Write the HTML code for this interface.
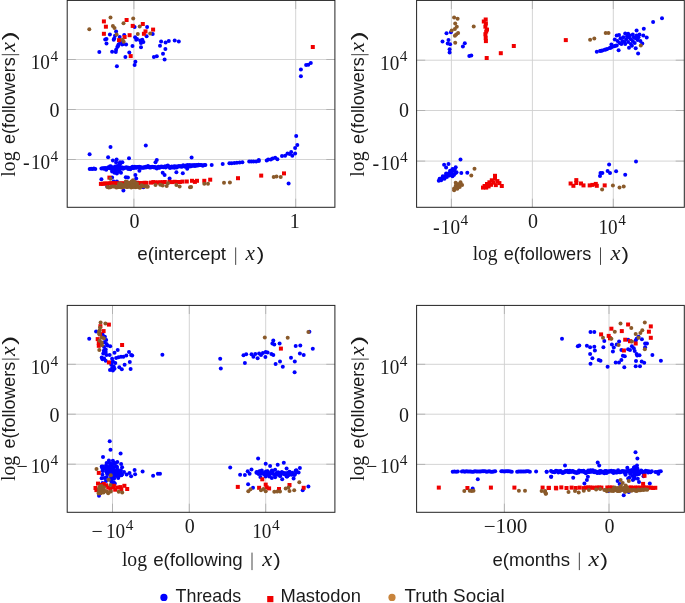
<!DOCTYPE html>
<html><head><meta charset="utf-8"><title>chart</title>
<style>
html,body{margin:0;padding:0;background:#fff;}
body{width:685px;height:603px;position:relative;overflow:hidden;font-family:"Liberation Sans",sans-serif;color:#1a1a1a;}
.t{position:absolute;white-space:nowrap;line-height:1;}
.s{font-family:"Liberation Serif",serif;}
.ss{font-family:"Liberation Sans",sans-serif;}
.i{font-family:"Liberation Serif",serif;font-style:italic;}
sup{font-size:70%;vertical-align:baseline;position:relative;top:-0.45em;line-height:0;}
.yl{transform:rotate(-90deg);transform-origin:0 0;}
</style></head><body>
<svg width="685" height="603" viewBox="0 0 685 603" style="position:absolute;left:0;top:0"><path d="M133.9 0.4V207.3M295.7 0.4V207.3M67.2 59.5H334.9M67.2 109.5H334.9M67.2 159.5H334.9" stroke="#cfcfcf" stroke-width="0.9" fill="none"/><path d="M133.9 0.4v8.6M133.9 207.3v-8.6M295.7 0.4v8.6M295.7 207.3v-8.6M67.2 59.5h8.6M334.9 59.5h-8.6M67.2 109.5h8.6M334.9 109.5h-8.6M67.2 159.5h8.6M334.9 159.5h-8.6" stroke="#aaaaaa" stroke-width="0.8" fill="none"/><g fill="#0000ff"><circle cx="99.3" cy="52.1" r="2"/><circle cx="106.5" cy="38.9" r="2"/><circle cx="105.2" cy="39.4" r="2"/><circle cx="106.5" cy="43.6" r="2"/><circle cx="109.9" cy="34.6" r="2"/><circle cx="112.1" cy="51.8" r="2"/><circle cx="115.8" cy="52.1" r="2"/><circle cx="116.1" cy="49.7" r="2"/><circle cx="114.2" cy="38.6" r="2"/><circle cx="115.0" cy="35.7" r="2"/><circle cx="116.1" cy="31.4" r="2"/><circle cx="117.3" cy="46.9" r="2"/><circle cx="118.5" cy="44.5" r="2"/><circle cx="120.1" cy="42.1" r="2"/><circle cx="119.7" cy="37.0" r="2"/><circle cx="122.1" cy="44.5" r="2"/><circle cx="126.1" cy="44.5" r="2"/><circle cx="124.2" cy="34.9" r="2"/><circle cx="125.4" cy="56.9" r="2"/><circle cx="116.9" cy="66.2" r="2"/><circle cx="129.3" cy="52.6" r="2"/><circle cx="132.5" cy="46.1" r="2"/><circle cx="134.6" cy="26.9" r="2"/><circle cx="135.1" cy="37.3" r="2"/><circle cx="136.2" cy="39.7" r="2"/><circle cx="135.4" cy="61.7" r="2"/><circle cx="134.6" cy="65.1" r="2"/><circle cx="141.0" cy="42.9" r="2"/><circle cx="141.0" cy="47.3" r="2"/><circle cx="142.3" cy="39.7" r="2"/><circle cx="143.4" cy="42.1" r="2"/><circle cx="146.6" cy="36.2" r="2"/><circle cx="147.1" cy="26.9" r="2"/><circle cx="152.7" cy="34.1" r="2"/><circle cx="153.9" cy="57.1" r="2"/><circle cx="156.8" cy="56.3" r="2"/><circle cx="160.0" cy="45.8" r="2"/><circle cx="161.1" cy="41.6" r="2"/><circle cx="163.0" cy="53.7" r="2"/><circle cx="164.6" cy="59.5" r="2"/><circle cx="165.4" cy="48.9" r="2"/><circle cx="165.6" cy="42.6" r="2"/><circle cx="168.8" cy="41.0" r="2"/><circle cx="174.7" cy="40.5" r="2"/><circle cx="178.8" cy="41.5" r="2"/><circle cx="118.1" cy="46.1" r="2"/><circle cx="123.4" cy="44.0" r="2"/><circle cx="113.7" cy="39.7" r="2"/><circle cx="137.0" cy="38.9" r="2"/><circle cx="140.2" cy="40.5" r="2"/><circle cx="300.9" cy="69.6" r="2"/><circle cx="300.9" cy="76.2" r="2"/><circle cx="306.1" cy="65" r="2"/><circle cx="308.3" cy="64.8" r="2"/><circle cx="310.8" cy="63.1" r="2"/><circle cx="89.7" cy="168.9" r="2"/><circle cx="91.1" cy="168.7" r="2"/><circle cx="92.5" cy="169.1" r="2"/><circle cx="93.9" cy="168.6" r="2"/><circle cx="95.3" cy="168.9" r="2"/><circle cx="101.4" cy="168.6" r="2"/><circle cx="102.7" cy="168.2" r="2"/><circle cx="104.0" cy="168.7" r="2"/><circle cx="105.3" cy="168.1" r="2"/><circle cx="106.6" cy="168.6" r="2"/><circle cx="107.9" cy="168.1" r="2"/><circle cx="109.2" cy="168.1" r="2"/><circle cx="110.5" cy="168.4" r="2"/><circle cx="111.8" cy="168.9" r="2"/><circle cx="113.1" cy="168.0" r="2"/><circle cx="114.4" cy="168.0" r="2"/><circle cx="115.7" cy="168.5" r="2"/><circle cx="117.0" cy="168.8" r="2"/><circle cx="118.3" cy="168.3" r="2"/><circle cx="119.6" cy="168.1" r="2"/><circle cx="120.9" cy="168.7" r="2"/><circle cx="122.2" cy="167.6" r="2"/><circle cx="123.5" cy="168.5" r="2"/><circle cx="124.8" cy="167.8" r="2"/><circle cx="126.1" cy="167.6" r="2"/><circle cx="127.4" cy="167.5" r="2"/><circle cx="128.7" cy="167.7" r="2"/><circle cx="130.0" cy="168.2" r="2"/><circle cx="131.3" cy="167.4" r="2"/><circle cx="132.6" cy="167.9" r="2"/><circle cx="133.9" cy="167.9" r="2"/><circle cx="135.2" cy="167.5" r="2"/><circle cx="136.5" cy="167.7" r="2"/><circle cx="137.8" cy="167.1" r="2"/><circle cx="139.1" cy="167.0" r="2"/><circle cx="140.4" cy="167.2" r="2"/><circle cx="141.7" cy="167.7" r="2"/><circle cx="143.0" cy="167.4" r="2"/><circle cx="144.3" cy="167.2" r="2"/><circle cx="145.6" cy="167.5" r="2"/><circle cx="146.9" cy="167.3" r="2"/><circle cx="148.2" cy="167.0" r="2"/><circle cx="149.5" cy="167.6" r="2"/><circle cx="150.8" cy="167.4" r="2"/><circle cx="152.1" cy="166.8" r="2"/><circle cx="153.4" cy="167.2" r="2"/><circle cx="154.7" cy="167.1" r="2"/><circle cx="156.0" cy="167.5" r="2"/><circle cx="157.3" cy="167.3" r="2"/><circle cx="158.6" cy="166.7" r="2"/><circle cx="159.9" cy="167.5" r="2"/><circle cx="161.2" cy="166.4" r="2"/><circle cx="162.5" cy="166.7" r="2"/><circle cx="163.8" cy="167.1" r="2"/><circle cx="165.1" cy="166.3" r="2"/><circle cx="166.4" cy="166.7" r="2"/><circle cx="167.7" cy="166.1" r="2"/><circle cx="169.0" cy="166.8" r="2"/><circle cx="170.3" cy="166.9" r="2"/><circle cx="171.6" cy="166.6" r="2"/><circle cx="172.9" cy="166.9" r="2"/><circle cx="174.2" cy="166.2" r="2"/><circle cx="175.5" cy="166.6" r="2"/><circle cx="176.8" cy="166.5" r="2"/><circle cx="178.1" cy="166.4" r="2"/><circle cx="179.4" cy="166.2" r="2"/><circle cx="180.7" cy="166.6" r="2"/><circle cx="182.0" cy="166.7" r="2"/><circle cx="183.3" cy="166.1" r="2"/><circle cx="184.6" cy="166.3" r="2"/><circle cx="185.9" cy="165.5" r="2"/><circle cx="187.2" cy="166.3" r="2"/><circle cx="188.5" cy="166.1" r="2"/><circle cx="189.8" cy="166.5" r="2"/><circle cx="191.1" cy="166.3" r="2"/><circle cx="192.4" cy="165.6" r="2"/><circle cx="193.7" cy="165.7" r="2"/><circle cx="195.0" cy="166.0" r="2"/><circle cx="196.3" cy="165.1" r="2"/><circle cx="197.6" cy="165.6" r="2"/><circle cx="198.9" cy="165.2" r="2"/><circle cx="200.2" cy="165.1" r="2"/><circle cx="201.5" cy="165.0" r="2"/><circle cx="202.8" cy="165.8" r="2"/><circle cx="204.1" cy="165.0" r="2"/><circle cx="205.4" cy="165.1" r="2"/><circle cx="104" cy="168.3" r="2"/><circle cx="106.2" cy="169.7" r="2"/><circle cx="108.4" cy="167.2" r="2"/><circle cx="110.6" cy="168.3" r="2"/><circle cx="112.8" cy="168.5" r="2"/><circle cx="115.0" cy="169.5" r="2"/><circle cx="117.2" cy="169.2" r="2"/><circle cx="119.4" cy="169.3" r="2"/><circle cx="121.6" cy="167.5" r="2"/><circle cx="123.8" cy="167.8" r="2"/><circle cx="126.0" cy="167.6" r="2"/><circle cx="128.2" cy="169.1" r="2"/><circle cx="130.4" cy="169.3" r="2"/><circle cx="132.6" cy="166.8" r="2"/><circle cx="134.8" cy="166.8" r="2"/><circle cx="137.0" cy="166.9" r="2"/><circle cx="139.2" cy="166.8" r="2"/><circle cx="141.4" cy="167.5" r="2"/><circle cx="143.6" cy="167.8" r="2"/><circle cx="145.8" cy="166.8" r="2"/><circle cx="148.0" cy="165.9" r="2"/><circle cx="150.2" cy="167.1" r="2"/><circle cx="152.4" cy="166.9" r="2"/><circle cx="154.6" cy="167.4" r="2"/><circle cx="156.8" cy="168.5" r="2"/><circle cx="159.0" cy="167.7" r="2"/><circle cx="161.2" cy="167.1" r="2"/><circle cx="163.4" cy="167.3" r="2"/><circle cx="165.6" cy="167.5" r="2"/><circle cx="167.8" cy="165.5" r="2"/><circle cx="170.0" cy="168.0" r="2"/><circle cx="172.2" cy="167.6" r="2"/><circle cx="174.4" cy="167.8" r="2"/><circle cx="176.6" cy="167.5" r="2"/><circle cx="178.8" cy="166.3" r="2"/><circle cx="181.0" cy="166.2" r="2"/><circle cx="183.2" cy="165.3" r="2"/><circle cx="185.4" cy="166.8" r="2"/><circle cx="187.6" cy="165.0" r="2"/><circle cx="189.8" cy="165.0" r="2"/><circle cx="192.0" cy="165.3" r="2"/><circle cx="194.2" cy="165.1" r="2"/><circle cx="196.4" cy="165.6" r="2"/><circle cx="198.6" cy="164.7" r="2"/><circle cx="118.3" cy="167.5" r="2"/><circle cx="118.9" cy="169.0" r="2"/><circle cx="122.9" cy="168.3" r="2"/><circle cx="115.1" cy="166.5" r="2"/><circle cx="116.5" cy="169.9" r="2"/><circle cx="115.4" cy="168.5" r="2"/><circle cx="122.4" cy="162.3" r="2"/><circle cx="112.9" cy="168.1" r="2"/><circle cx="117.8" cy="168.1" r="2"/><circle cx="115.1" cy="169.2" r="2"/><circle cx="117.4" cy="166.1" r="2"/><circle cx="122.9" cy="168.4" r="2"/><circle cx="114.7" cy="167.2" r="2"/><circle cx="115.8" cy="167.3" r="2"/><circle cx="110.1" cy="166.2" r="2"/><circle cx="119.7" cy="164.5" r="2"/><circle cx="116.3" cy="170.0" r="2"/><circle cx="119.2" cy="171.4" r="2"/><circle cx="111.1" cy="166.6" r="2"/><circle cx="115.4" cy="169.1" r="2"/><circle cx="120.0" cy="162.3" r="2"/><circle cx="120.0" cy="163.7" r="2"/><circle cx="89.6" cy="154.3" r="2"/><circle cx="110.5" cy="147.0" r="2"/><circle cx="108.1" cy="157.2" r="2"/><circle cx="112.9" cy="160.4" r="2"/><circle cx="116.6" cy="159.4" r="2"/><circle cx="116.1" cy="162.6" r="2"/><circle cx="129.0" cy="158.3" r="2"/><circle cx="145.8" cy="145.6" r="2"/><circle cx="156.8" cy="159.9" r="2"/><circle cx="155.5" cy="162.3" r="2"/><circle cx="114.5" cy="172.7" r="2"/><circle cx="116.9" cy="173.5" r="2"/><circle cx="121.0" cy="172.7" r="2"/><circle cx="112.1" cy="171.6" r="2"/><circle cx="139.4" cy="170.7" r="2"/><circle cx="162.7" cy="172.7" r="2"/><circle cx="164.6" cy="175.1" r="2"/><circle cx="169.6" cy="178.4" r="2"/><circle cx="176.4" cy="172.3" r="2"/><circle cx="182.8" cy="173.2" r="2"/><circle cx="135.4" cy="175.1" r="2"/><circle cx="136.2" cy="178.4" r="2"/><circle cx="125.8" cy="177.2" r="2"/><circle cx="127.9" cy="177.6" r="2"/><circle cx="101.4" cy="179.2" r="2"/><circle cx="112.1" cy="177.6" r="2"/><circle cx="123.4" cy="190.4" r="2"/><circle cx="107.3" cy="186.4" r="2"/><circle cx="113.7" cy="181.6" r="2"/><circle cx="116.9" cy="181.6" r="2"/><circle cx="143.4" cy="187.2" r="2"/><circle cx="191.6" cy="157.4" r="2"/><circle cx="187.2" cy="168.8" r="2"/><circle cx="211.7" cy="164.9" r="2"/><circle cx="222.7" cy="164.0" r="2"/><circle cx="229.4" cy="163.3" r="2"/><circle cx="231.6" cy="163.3" r="2"/><circle cx="234.3" cy="163.1" r="2"/><circle cx="236.9" cy="162.7" r="2"/><circle cx="239.7" cy="162.4" r="2"/><circle cx="242.4" cy="162.2" r="2"/><circle cx="249.2" cy="161.6" r="2"/><circle cx="251.3" cy="161.6" r="2"/><circle cx="253.5" cy="161.6" r="2"/><circle cx="256.2" cy="161.6" r="2"/><circle cx="258.8" cy="161.1" r="2"/><circle cx="258.8" cy="160.0" r="2"/><circle cx="266.7" cy="160.5" r="2"/><circle cx="268.2" cy="159.6" r="2"/><circle cx="270.8" cy="159.4" r="2"/><circle cx="272.6" cy="158.5" r="2"/><circle cx="275.2" cy="157.8" r="2"/><circle cx="277.4" cy="159.2" r="2"/><circle cx="282.0" cy="156.1" r="2"/><circle cx="285.1" cy="155.7" r="2"/><circle cx="287.5" cy="153.5" r="2"/><circle cx="289.7" cy="153.9" r="2"/><circle cx="291.2" cy="151.9" r="2"/><circle cx="292.3" cy="155.7" r="2"/><circle cx="295.1" cy="153.5" r="2"/><circle cx="295.1" cy="148.0" r="2"/><circle cx="297.3" cy="145.1" r="2"/><circle cx="296.2" cy="135.9" r="2"/><circle cx="288.6" cy="183.5" r="2"/></g><g fill="#f00000"><rect x="101.9" y="19.4" width="4" height="4"/><rect x="103.9" y="24.7" width="4" height="4"/><rect x="101.9" y="31.8" width="4" height="4"/><rect x="124.6" y="18.0" width="4" height="4"/><rect x="130.7" y="23.9" width="4" height="4"/><rect x="140.8" y="22.0" width="4" height="4"/><rect x="151.1" y="27.6" width="4" height="4"/><rect x="143.5" y="29.4" width="4" height="4"/><rect x="141.9" y="31.8" width="4" height="4"/><rect x="127.6" y="33.2" width="4" height="4"/><rect x="122.6" y="35.0" width="4" height="4"/><rect x="117.0" y="38.2" width="4" height="4"/><rect x="128.7" y="54.1" width="4" height="4"/><rect x="310.8" y="45.0" width="4" height="4"/><rect x="98.9" y="181.9" width="4" height="4"/><rect x="100.8" y="181.8" width="4" height="4"/><rect x="102.7" y="181.5" width="4" height="4"/><rect x="104.6" y="181.6" width="4" height="4"/><rect x="106.5" y="181.5" width="4" height="4"/><rect x="108.4" y="181.2" width="4" height="4"/><rect x="110.3" y="181.2" width="4" height="4"/><rect x="112.2" y="181.3" width="4" height="4"/><rect x="114.1" y="181.3" width="4" height="4"/><rect x="116.0" y="181.5" width="4" height="4"/><rect x="117.9" y="181.6" width="4" height="4"/><rect x="119.8" y="181.3" width="4" height="4"/><rect x="121.7" y="181.5" width="4" height="4"/><rect x="123.6" y="181.5" width="4" height="4"/><rect x="125.5" y="181.5" width="4" height="4"/><rect x="127.4" y="181.1" width="4" height="4"/><rect x="129.3" y="180.9" width="4" height="4"/><rect x="131.2" y="180.9" width="4" height="4"/><rect x="133.1" y="180.9" width="4" height="4"/><rect x="135.0" y="180.8" width="4" height="4"/><rect x="136.9" y="181.0" width="4" height="4"/><rect x="138.8" y="181.2" width="4" height="4"/><rect x="140.7" y="181.1" width="4" height="4"/><rect x="142.6" y="180.8" width="4" height="4"/><rect x="144.5" y="180.9" width="4" height="4"/><rect x="149.0" y="180.6" width="4" height="4"/><rect x="151.3" y="180.1" width="4" height="4"/><rect x="153.6" y="180.4" width="4" height="4"/><rect x="155.9" y="180.5" width="4" height="4"/><rect x="158.2" y="180.3" width="4" height="4"/><rect x="160.5" y="180.2" width="4" height="4"/><rect x="162.8" y="180.0" width="4" height="4"/><rect x="167.5" y="179.8" width="4" height="4"/><rect x="170.1" y="180.1" width="4" height="4"/><rect x="172.7" y="179.8" width="4" height="4"/><rect x="175.3" y="180.0" width="4" height="4"/><rect x="177.9" y="180.0" width="4" height="4"/><rect x="180.5" y="179.6" width="4" height="4"/><rect x="107.4" y="175.6" width="4" height="4"/><rect x="184.8" y="179.5" width="4" height="4"/><rect x="190.0" y="178.8" width="4" height="4"/><rect x="192.9" y="179.9" width="4" height="4"/><rect x="195.0" y="178.8" width="4" height="4"/><rect x="202.3" y="178.8" width="4" height="4"/><rect x="208.2" y="177.7" width="4" height="4"/><rect x="236.0" y="176.2" width="4" height="4"/><rect x="259.2" y="173.6" width="4" height="4"/><rect x="282.0" y="171.4" width="4" height="4"/></g><g fill="#8a5a2a"><circle cx="89.3" cy="29.3" r="2"/><circle cx="110.5" cy="17.5" r="2"/><circle cx="133.2" cy="18.5" r="2"/><circle cx="123.5" cy="23.3" r="2"/><circle cx="112.9" cy="26.1" r="2"/><circle cx="114.5" cy="28.1" r="2"/><circle cx="139.7" cy="26.5" r="2"/><circle cx="116.6" cy="34.6" r="2"/><circle cx="137.8" cy="34.1" r="2"/><circle cx="150.2" cy="33.4" r="2"/><circle cx="122.6" cy="39.7" r="2"/><circle cx="123.7" cy="41.8" r="2"/><circle cx="107.3" cy="186.9" r="2"/><circle cx="108.8" cy="187.6" r="2"/><circle cx="110.3" cy="187.3" r="2"/><circle cx="111.8" cy="186.5" r="2"/><circle cx="113.3" cy="186.4" r="2"/><circle cx="114.8" cy="186.4" r="2"/><circle cx="116.3" cy="187.5" r="2"/><circle cx="117.8" cy="187.3" r="2"/><circle cx="119.3" cy="186.4" r="2"/><circle cx="120.8" cy="187.3" r="2"/><circle cx="122.3" cy="187.5" r="2"/><circle cx="123.8" cy="187.1" r="2"/><circle cx="125.3" cy="186.6" r="2"/><circle cx="126.8" cy="186.9" r="2"/><circle cx="128.3" cy="186.3" r="2"/><circle cx="129.8" cy="186.1" r="2"/><circle cx="131.3" cy="187.4" r="2"/><circle cx="132.8" cy="187.0" r="2"/><circle cx="134.3" cy="186.8" r="2"/><circle cx="135.8" cy="187.3" r="2"/><circle cx="137.3" cy="186.6" r="2"/><circle cx="138.8" cy="187.2" r="2"/><circle cx="140.3" cy="187.1" r="2"/><circle cx="141.8" cy="186.3" r="2"/><circle cx="143.3" cy="186.3" r="2"/><circle cx="144.8" cy="186.4" r="2"/><circle cx="146.3" cy="186.3" r="2"/><circle cx="147.8" cy="186.7" r="2"/><circle cx="130.6" cy="186.9" r="2"/><circle cx="139.9" cy="187.8" r="2"/><circle cx="127.0" cy="186.6" r="2"/><circle cx="119.7" cy="183.5" r="2"/><circle cx="119.2" cy="186.9" r="2"/><circle cx="123.6" cy="185.2" r="2"/><circle cx="129.8" cy="185.2" r="2"/><circle cx="127.5" cy="185.6" r="2"/><circle cx="141.7" cy="185.3" r="2"/><circle cx="134.2" cy="186.8" r="2"/><circle cx="129.8" cy="183.2" r="2"/><circle cx="127.7" cy="186.9" r="2"/><circle cx="121.1" cy="184.2" r="2"/><circle cx="137.0" cy="186.5" r="2"/><circle cx="131.0" cy="186.5" r="2"/><circle cx="132.0" cy="183.3" r="2"/><circle cx="121.6" cy="184.2" r="2"/><circle cx="136.5" cy="184.3" r="2"/><circle cx="125.6" cy="184.0" r="2"/><circle cx="121.8" cy="185.0" r="2"/><circle cx="123.9" cy="185.8" r="2"/><circle cx="119.0" cy="185.7" r="2"/><circle cx="127.2" cy="182.1" r="2"/><circle cx="135.3" cy="184.8" r="2"/><circle cx="119.0" cy="183.8" r="2"/><circle cx="132.7" cy="184.5" r="2"/><circle cx="133" cy="180.2" r="2"/><circle cx="131.5" cy="181.5" r="2"/><circle cx="134.5" cy="181.8" r="2"/><circle cx="110.5" cy="178.7" r="2"/><circle cx="125.8" cy="181.6" r="2"/><circle cx="128" cy="183" r="2"/><circle cx="137" cy="183.5" r="2"/><circle cx="155.5" cy="185.1" r="2"/><circle cx="162.7" cy="185.6" r="2"/><circle cx="166.7" cy="186.1" r="2"/><circle cx="168.0" cy="183.2" r="2"/><circle cx="176.4" cy="185.1" r="2"/><circle cx="179.6" cy="186.4" r="2"/><circle cx="190.0" cy="187.2" r="2"/><circle cx="160.3" cy="184.8" r="2"/><circle cx="146.6" cy="186.4" r="2"/><circle cx="191.1" cy="187.0" r="2"/><circle cx="204.3" cy="183.7" r="2"/><circle cx="208.0" cy="183.7" r="2"/><circle cx="224.0" cy="182.8" r="2"/><circle cx="229.9" cy="182.4" r="2"/><circle cx="273.7" cy="176.9" r="2"/><circle cx="276.5" cy="176.5" r="2"/><circle cx="280.7" cy="176.9" r="2"/></g><rect x="67.2" y="0.4" width="267.7" height="206.9" fill="none" stroke="#222" stroke-width="1"/><path d="M451.4 0.4V207.3M532.4 0.4V207.3M613.3 0.4V207.3M416.6 60.2H684.3M416.6 110.5H684.3M416.6 161.1H684.3" stroke="#cfcfcf" stroke-width="0.9" fill="none"/><path d="M451.4 0.4v8.6M451.4 207.3v-8.6M532.4 0.4v8.6M532.4 207.3v-8.6M613.3 0.4v8.6M613.3 207.3v-8.6M416.6 60.2h8.6M684.3 60.2h-8.6M416.6 110.5h8.6M684.3 110.5h-8.6M416.6 161.1h8.6M684.3 161.1h-8.6" stroke="#aaaaaa" stroke-width="0.8" fill="none"/><g fill="#0000ff"><circle cx="446.5" cy="33.3" r="2"/><circle cx="450.9" cy="32.3" r="2"/><circle cx="442.5" cy="41.5" r="2"/><circle cx="448.5" cy="40.0" r="2"/><circle cx="447.7" cy="43.5" r="2"/><circle cx="450.1" cy="44.3" r="2"/><circle cx="449.6" cy="49.2" r="2"/><circle cx="449.6" cy="52.4" r="2"/><circle cx="464.8" cy="43.2" r="2"/><circle cx="462.9" cy="46.4" r="2"/><circle cx="469.3" cy="55.9" r="2"/><circle cx="471.3" cy="55.4" r="2"/><circle cx="596.8" cy="51.7" r="2"/><circle cx="600.0" cy="51.1" r="2"/><circle cx="602.4" cy="50.5" r="2"/><circle cx="604.7" cy="49.8" r="2"/><circle cx="607.2" cy="49.0" r="2"/><circle cx="609.7" cy="48.1" r="2"/><circle cx="611.9" cy="47.1" r="2"/><circle cx="614.2" cy="46.2" r="2"/><circle cx="616.7" cy="45.4" r="2"/><circle cx="601.1" cy="50.7" r="2"/><circle cx="605.9" cy="49.4" r="2"/><circle cx="610.8" cy="47.7" r="2"/><circle cx="615.4" cy="45.8" r="2"/><circle cx="611.4" cy="44.5" r="2"/><circle cx="618.6" cy="50.2" r="2"/><circle cx="629.0" cy="47.7" r="2"/><circle cx="635.7" cy="48.3" r="2"/><circle cx="638.1" cy="53.6" r="2"/><circle cx="642.3" cy="43.5" r="2"/><circle cx="646.7" cy="37.6" r="2"/><circle cx="643.8" cy="28.7" r="2"/><circle cx="636.6" cy="30.6" r="2"/><circle cx="653.1" cy="21.9" r="2"/><circle cx="662.0" cy="18.3" r="2"/><circle cx="616.7" cy="35.4" r="2"/><circle cx="619.0" cy="35.0" r="2"/><circle cx="614.8" cy="39.5" r="2"/><circle cx="625.2" cy="33.5" r="2"/><circle cx="628.1" cy="33.8" r="2"/><circle cx="632.8" cy="34.4" r="2"/><circle cx="639.5" cy="34.4" r="2"/><circle cx="643.3" cy="35.4" r="2"/><circle cx="640.4" cy="41.1" r="2"/><circle cx="634.7" cy="43.0" r="2"/><circle cx="619.5" cy="43.0" r="2"/><circle cx="622.4" cy="41.1" r="2"/><circle cx="625.2" cy="43.9" r="2"/><circle cx="628.1" cy="42.0" r="2"/><circle cx="630.9" cy="39.2" r="2"/><circle cx="633.8" cy="37.3" r="2"/><circle cx="636.6" cy="35.4" r="2"/><circle cx="620.5" cy="38.2" r="2"/><circle cx="623.3" cy="37.3" r="2"/><circle cx="626.2" cy="39.2" r="2"/><circle cx="629.0" cy="37.3" r="2"/><circle cx="630.9" cy="43.9" r="2"/><circle cx="632.8" cy="41.1" r="2"/><circle cx="637.6" cy="40.1" r="2"/><circle cx="617.6" cy="41.1" r="2"/><circle cx="621.4" cy="43.9" r="2"/><circle cx="627.1" cy="36.3" r="2"/><circle cx="630.0" cy="35.4" r="2"/><circle cx="635.7" cy="38.2" r="2"/><circle cx="638.5" cy="37.3" r="2"/><circle cx="624.3" cy="42.0" r="2"/><circle cx="631.9" cy="45.8" r="2"/><circle cx="460.5" cy="159.5" r="2"/><circle cx="444.1" cy="164.8" r="2"/><circle cx="448.5" cy="163.9" r="2"/><circle cx="446.1" cy="167.5" r="2"/><circle cx="455.7" cy="167.2" r="2"/><circle cx="452.5" cy="169.1" r="2"/><circle cx="454.1" cy="170.7" r="2"/><circle cx="456.5" cy="172.3" r="2"/><circle cx="461.3" cy="173.1" r="2"/><circle cx="467.3" cy="172.8" r="2"/><circle cx="438.8" cy="180.7" r="2"/><circle cx="440.4" cy="179.5" r="2"/><circle cx="442.0" cy="178.4" r="2"/><circle cx="443.7" cy="177.1" r="2"/><circle cx="445.3" cy="176.0" r="2"/><circle cx="446.9" cy="174.7" r="2"/><circle cx="448.5" cy="173.6" r="2"/><circle cx="450.1" cy="172.6" r="2"/><circle cx="451.7" cy="171.5" r="2"/><circle cx="453.3" cy="170.4" r="2"/><circle cx="441.2" cy="180.3" r="2"/><circle cx="444.5" cy="178.7" r="2"/><circle cx="446.9" cy="177.1" r="2"/><circle cx="449.3" cy="175.5" r="2"/><circle cx="451.7" cy="173.9" r="2"/><circle cx="454.1" cy="174.7" r="2"/><circle cx="452.5" cy="176.3" r="2"/><circle cx="439.6" cy="178.7" r="2"/><circle cx="442.8" cy="176.3" r="2"/><circle cx="446.1" cy="173.6" r="2"/><circle cx="450.1" cy="170.7" r="2"/><circle cx="454.9" cy="169.1" r="2"/><circle cx="455.7" cy="173.1" r="2"/><circle cx="636.0" cy="161.5" r="2"/><circle cx="609.1" cy="164.5" r="2"/><circle cx="607.6" cy="171.0" r="2"/><circle cx="610.0" cy="172.9" r="2"/><circle cx="616.1" cy="171.2" r="2"/><circle cx="625.2" cy="174.8" r="2"/><circle cx="600.5" cy="172.9" r="2"/><circle cx="602.4" cy="172.9" r="2"/><circle cx="600.0" cy="176.1" r="2"/></g><g fill="#f00000"><rect x="483.7" y="17.5" width="4" height="4"/><rect x="481.8" y="19.5" width="4" height="4"/><rect x="483.9" y="21.5" width="4" height="4"/><rect x="483.4" y="24.7" width="4" height="4"/><rect x="485.0" y="27.6" width="4" height="4"/><rect x="484.2" y="29.5" width="4" height="4"/><rect x="483.4" y="32.2" width="4" height="4"/><rect x="483.7" y="35.9" width="4" height="4"/><rect x="483.9" y="39.1" width="4" height="4"/><rect x="484.7" y="56.0" width="4" height="4"/><rect x="498.8" y="51.2" width="4" height="4"/><rect x="511.8" y="44.0" width="4" height="4"/><rect x="563.8" y="38.1" width="4" height="4"/><rect x="493.0" y="173.8" width="4" height="4"/><rect x="493.0" y="176.7" width="4" height="4"/><rect x="489.8" y="178.3" width="4" height="4"/><rect x="495.4" y="179.1" width="4" height="4"/><rect x="487.4" y="180.3" width="4" height="4"/><rect x="491.4" y="180.7" width="4" height="4"/><rect x="497.4" y="181.1" width="4" height="4"/><rect x="485.0" y="182.0" width="4" height="4"/><rect x="489.0" y="182.8" width="4" height="4"/><rect x="493.8" y="183.1" width="4" height="4"/><rect x="482.6" y="184.0" width="4" height="4"/><rect x="486.6" y="184.4" width="4" height="4"/><rect x="499.8" y="184.0" width="4" height="4"/><rect x="481.0" y="185.6" width="4" height="4"/><rect x="484.2" y="185.6" width="4" height="4"/><rect x="568.6" y="181.5" width="4" height="4"/><rect x="571.4" y="183.8" width="4" height="4"/><rect x="574.3" y="178.1" width="4" height="4"/><rect x="574.3" y="181.0" width="4" height="4"/><rect x="579.0" y="181.5" width="4" height="4"/><rect x="581.5" y="183.4" width="4" height="4"/><rect x="587.7" y="183.4" width="4" height="4"/><rect x="590.4" y="182.9" width="4" height="4"/><rect x="593.8" y="181.9" width="4" height="4"/><rect x="594.8" y="183.8" width="4" height="4"/><rect x="602.7" y="183.4" width="4" height="4"/></g><g fill="#8a5a2a"><circle cx="454.1" cy="17.4" r="2"/><circle cx="457.6" cy="18.7" r="2"/><circle cx="455.2" cy="23.5" r="2"/><circle cx="456.8" cy="26.7" r="2"/><circle cx="454.9" cy="29.1" r="2"/><circle cx="451.7" cy="30.4" r="2"/><circle cx="458.1" cy="33.1" r="2"/><circle cx="456.2" cy="34.4" r="2"/><circle cx="454.9" cy="35.8" r="2"/><circle cx="455.2" cy="42.7" r="2"/><circle cx="473.7" cy="26.4" r="2"/><circle cx="590.1" cy="39.7" r="2"/><circle cx="594.3" cy="38.4" r="2"/><circle cx="605.7" cy="33.1" r="2"/><circle cx="608.5" cy="33.1" r="2"/><circle cx="640.8" cy="45.4" r="2"/><circle cx="474.5" cy="168.8" r="2"/><circle cx="471.3" cy="175.5" r="2"/><circle cx="455.7" cy="182.7" r="2"/><circle cx="460.5" cy="182.3" r="2"/><circle cx="458.1" cy="184.3" r="2"/><circle cx="462.1" cy="185.1" r="2"/><circle cx="455.7" cy="186.0" r="2"/><circle cx="459.7" cy="187.1" r="2"/><circle cx="454.1" cy="188.4" r="2"/><circle cx="457.3" cy="188.7" r="2"/><circle cx="454.1" cy="190.3" r="2"/><circle cx="456.5" cy="184.3" r="2"/><circle cx="460.5" cy="184.3" r="2"/><circle cx="458.6" cy="186.4" r="2"/><circle cx="602.1" cy="189.4" r="2"/><circle cx="612.9" cy="185.6" r="2"/><circle cx="619.5" cy="187.5" r="2"/><circle cx="623.7" cy="186.6" r="2"/></g><rect x="416.6" y="0.4" width="267.7" height="206.9" fill="none" stroke="#222" stroke-width="1"/><path d="M112.5 305.4V512.3M189.3 305.4V512.3M265.7 305.4V512.3M67.2 364.3H334.9M67.2 414.2H334.9M67.2 464.2H334.9" stroke="#cfcfcf" stroke-width="0.9" fill="none"/><path d="M112.5 305.4v8.6M112.5 512.3v-8.6M189.3 305.4v8.6M189.3 512.3v-8.6M265.7 305.4v8.6M265.7 512.3v-8.6M67.2 364.3h8.6M334.9 364.3h-8.6M67.2 414.2h8.6M334.9 414.2h-8.6M67.2 464.2h8.6M334.9 464.2h-8.6" stroke="#aaaaaa" stroke-width="0.8" fill="none"/><g fill="#0000ff"><circle cx="89.2" cy="338.8" r="2"/><circle cx="96.1" cy="331.5" r="2"/><circle cx="162.4" cy="354.8" r="2"/><circle cx="104.9" cy="336.7" r="2"/><circle cx="106.2" cy="339.9" r="2"/><circle cx="106.5" cy="343.9" r="2"/><circle cx="107.6" cy="345.5" r="2"/><circle cx="110.2" cy="346.3" r="2"/><circle cx="104.1" cy="347.1" r="2"/><circle cx="105.7" cy="349.5" r="2"/><circle cx="103.8" cy="350.7" r="2"/><circle cx="105.7" cy="351.9" r="2"/><circle cx="103.3" cy="353.5" r="2"/><circle cx="106.5" cy="355.1" r="2"/><circle cx="109.7" cy="355.1" r="2"/><circle cx="101.7" cy="357.6" r="2"/><circle cx="104.1" cy="358.4" r="2"/><circle cx="102.5" cy="359.2" r="2"/><circle cx="105.7" cy="360.8" r="2"/><circle cx="114.5" cy="352.7" r="2"/><circle cx="117.7" cy="350.0" r="2"/><circle cx="112.1" cy="358.7" r="2"/><circle cx="116.1" cy="358.0" r="2"/><circle cx="118.5" cy="357.2" r="2"/><circle cx="121.0" cy="356.8" r="2"/><circle cx="123.4" cy="356.8" r="2"/><circle cx="126.3" cy="355.6" r="2"/><circle cx="129.0" cy="351.9" r="2"/><circle cx="131.1" cy="355.1" r="2"/><circle cx="132.2" cy="355.6" r="2"/><circle cx="129.8" cy="362.1" r="2"/><circle cx="124.6" cy="364.8" r="2"/><circle cx="119.3" cy="367.2" r="2"/><circle cx="121.8" cy="369.3" r="2"/><circle cx="130.6" cy="369.1" r="2"/><circle cx="112.9" cy="361.6" r="2"/><circle cx="115.3" cy="362.9" r="2"/><circle cx="111.3" cy="364.8" r="2"/><circle cx="113.7" cy="366.4" r="2"/><circle cx="112.1" cy="368.0" r="2"/><circle cx="114.5" cy="368.8" r="2"/><circle cx="110.0" cy="370.1" r="2"/><circle cx="112.9" cy="370.4" r="2"/><circle cx="111.3" cy="363.2" r="2"/><circle cx="104.1" cy="342.3" r="2"/><circle cx="102.5" cy="334.3" r="2"/><circle cx="220.2" cy="358.7" r="2"/><circle cx="220.8" cy="368.5" r="2"/><circle cx="243.5" cy="355.2" r="2"/><circle cx="246.2" cy="354.3" r="2"/><circle cx="244.9" cy="363.0" r="2"/><circle cx="251.5" cy="354.3" r="2"/><circle cx="253.4" cy="356.8" r="2"/><circle cx="255.3" cy="353.9" r="2"/><circle cx="257.6" cy="358.3" r="2"/><circle cx="259.1" cy="353.5" r="2"/><circle cx="261.0" cy="354.9" r="2"/><circle cx="262.9" cy="353.0" r="2"/><circle cx="265.4" cy="357.1" r="2"/><circle cx="265.7" cy="352.0" r="2"/><circle cx="267.6" cy="352.4" r="2"/><circle cx="271.4" cy="353.9" r="2"/><circle cx="273.3" cy="354.9" r="2"/><circle cx="272.4" cy="343.5" r="2"/><circle cx="273.3" cy="340.6" r="2"/><circle cx="274.3" cy="344.4" r="2"/><circle cx="279.6" cy="343.5" r="2"/><circle cx="275.6" cy="364.0" r="2"/><circle cx="280.0" cy="361.5" r="2"/><circle cx="282.8" cy="366.8" r="2"/><circle cx="291.0" cy="357.7" r="2"/><circle cx="294.8" cy="361.5" r="2"/><circle cx="294.6" cy="372.3" r="2"/><circle cx="295.7" cy="345.9" r="2"/><circle cx="300.3" cy="345.6" r="2"/><circle cx="299.9" cy="353.5" r="2"/><circle cx="303.7" cy="354.9" r="2"/><circle cx="312.8" cy="348.8" r="2"/><circle cx="309.4" cy="331.7" r="2"/><circle cx="109.7" cy="441.2" r="2"/><circle cx="110.5" cy="449.8" r="2"/><circle cx="120.6" cy="453.4" r="2"/><circle cx="103.0" cy="457.0" r="2"/><circle cx="126.6" cy="474.6" r="2"/><circle cx="129.5" cy="473.0" r="2"/><circle cx="131.1" cy="476.3" r="2"/><circle cx="134.6" cy="470.1" r="2"/><circle cx="135.1" cy="474.2" r="2"/><circle cx="142.6" cy="471.4" r="2"/><circle cx="153.1" cy="475.8" r="2"/><circle cx="157.9" cy="473.7" r="2"/><circle cx="160.0" cy="473.7" r="2"/><circle cx="122.1" cy="467.3" r="2"/><circle cx="101.7" cy="466.6" r="2"/><circle cx="108.9" cy="460.5" r="2"/><circle cx="112.9" cy="460.8" r="2"/><circle cx="117.3" cy="462.1" r="2"/><circle cx="113.7" cy="482.2" r="2"/><circle cx="111.3" cy="481.4" r="2"/><circle cx="115.5" cy="473.7" r="2"/><circle cx="115.0" cy="472.1" r="2"/><circle cx="118.2" cy="473.4" r="2"/><circle cx="114.0" cy="463.0" r="2"/><circle cx="116.1" cy="475.9" r="2"/><circle cx="110.4" cy="469.0" r="2"/><circle cx="121.1" cy="463.9" r="2"/><circle cx="114.1" cy="478.6" r="2"/><circle cx="107.3" cy="473.5" r="2"/><circle cx="120.9" cy="470.3" r="2"/><circle cx="114.5" cy="474.3" r="2"/><circle cx="107.5" cy="470.5" r="2"/><circle cx="113.2" cy="474.0" r="2"/><circle cx="111.6" cy="470.0" r="2"/><circle cx="106.9" cy="469.4" r="2"/><circle cx="116.1" cy="471.2" r="2"/><circle cx="107.7" cy="467.5" r="2"/><circle cx="121.4" cy="475.2" r="2"/><circle cx="114.9" cy="463.0" r="2"/><circle cx="114.8" cy="472.7" r="2"/><circle cx="119.9" cy="472.5" r="2"/><circle cx="111.5" cy="472.8" r="2"/><circle cx="102.5" cy="474.8" r="2"/><circle cx="113.4" cy="468.1" r="2"/><circle cx="118.2" cy="477.9" r="2"/><circle cx="105.1" cy="468.2" r="2"/><circle cx="113.2" cy="471.5" r="2"/><circle cx="109.9" cy="467.0" r="2"/><circle cx="121.4" cy="474.8" r="2"/><circle cx="106.1" cy="465.6" r="2"/><circle cx="120.0" cy="474.7" r="2"/><circle cx="120.5" cy="474.0" r="2"/><circle cx="107.6" cy="471.8" r="2"/><circle cx="102.2" cy="467.9" r="2"/><circle cx="111.5" cy="472.8" r="2"/><circle cx="108.3" cy="470.3" r="2"/><circle cx="114.0" cy="472.3" r="2"/><circle cx="114.9" cy="471.6" r="2"/><circle cx="110.2" cy="473.9" r="2"/><circle cx="112.0" cy="467.6" r="2"/><circle cx="108.8" cy="470.8" r="2"/><circle cx="111.3" cy="471.4" r="2"/><circle cx="111.8" cy="471.5" r="2"/><circle cx="111.2" cy="465.9" r="2"/><circle cx="113.8" cy="474.9" r="2"/><circle cx="113.9" cy="470.1" r="2"/><circle cx="113.9" cy="467.0" r="2"/><circle cx="102.7" cy="471.0" r="2"/><circle cx="107.3" cy="473.7" r="2"/><circle cx="106.6" cy="463.0" r="2"/><circle cx="106.8" cy="477.0" r="2"/><circle cx="110.0" cy="465.5" r="2"/><circle cx="108.1" cy="472.8" r="2"/><circle cx="114.2" cy="471.5" r="2"/><circle cx="118.9" cy="473.6" r="2"/><circle cx="111.7" cy="473.1" r="2"/><circle cx="119.7" cy="474.6" r="2"/><circle cx="116.7" cy="466.6" r="2"/><circle cx="111.1" cy="473.6" r="2"/><circle cx="110.4" cy="475.0" r="2"/><circle cx="114.7" cy="474.3" r="2"/><circle cx="110.8" cy="478.6" r="2"/><circle cx="117.8" cy="470.0" r="2"/><circle cx="112.2" cy="478.6" r="2"/><circle cx="110.2" cy="474.2" r="2"/><circle cx="116.5" cy="470.8" r="2"/><circle cx="106.2" cy="471.5" r="2"/><circle cx="113.5" cy="475.2" r="2"/><circle cx="115.6" cy="470.9" r="2"/><circle cx="115.9" cy="472.9" r="2"/><circle cx="112.8" cy="471.0" r="2"/><circle cx="110.6" cy="473.5" r="2"/><circle cx="106.7" cy="468.3" r="2"/><circle cx="111.8" cy="465.1" r="2"/><circle cx="109.7" cy="463.0" r="2"/><circle cx="108.5" cy="473.0" r="2"/><circle cx="114.5" cy="470.6" r="2"/><circle cx="110.7" cy="465.3" r="2"/><circle cx="120.6" cy="472.8" r="2"/><circle cx="117.0" cy="467.4" r="2"/><circle cx="110.9" cy="463.7" r="2"/><circle cx="115.5" cy="474.4" r="2"/><circle cx="102.7" cy="470.6" r="2"/><circle cx="114.8" cy="463.9" r="2"/><circle cx="103.0" cy="466.6" r="2"/><circle cx="99" cy="495.8" r="2"/><circle cx="102.5" cy="483.1" r="2"/><circle cx="106" cy="480.9" r="2"/><circle cx="112.1" cy="482.3" r="2"/><circle cx="114.8" cy="483.6" r="2"/><circle cx="101.6" cy="478.3" r="2"/><circle cx="104.5" cy="478" r="2"/><circle cx="119" cy="476" r="2"/><circle cx="122" cy="474.5" r="2"/><circle cx="124" cy="472" r="2"/><circle cx="230.2" cy="467.5" r="2"/><circle cx="258.1" cy="458.6" r="2"/><circle cx="240.1" cy="474.7" r="2"/><circle cx="244.9" cy="475.1" r="2"/><circle cx="247.7" cy="471.3" r="2"/><circle cx="249.6" cy="473.8" r="2"/><circle cx="251.5" cy="469.4" r="2"/><circle cx="248.1" cy="484.2" r="2"/><circle cx="253.0" cy="487.8" r="2"/><circle cx="265.7" cy="463.7" r="2"/><circle cx="270.1" cy="466.0" r="2"/><circle cx="277.7" cy="464.7" r="2"/><circle cx="283.8" cy="462.8" r="2"/><circle cx="286.6" cy="468.5" r="2"/><circle cx="299.9" cy="468.1" r="2"/><circle cx="298.6" cy="472.6" r="2"/><circle cx="293.6" cy="478.5" r="2"/><circle cx="308.4" cy="486.5" r="2"/><circle cx="302.7" cy="490.3" r="2"/><circle cx="282.2" cy="479.3" r="2"/><circle cx="271.8" cy="478.0" r="2"/><circle cx="256.5" cy="472.8" r="2"/><circle cx="256.7" cy="471.9" r="2"/><circle cx="257.5" cy="472.7" r="2"/><circle cx="258.6" cy="474.0" r="2"/><circle cx="259.1" cy="471.4" r="2"/><circle cx="259.9" cy="471.3" r="2"/><circle cx="260.4" cy="476.9" r="2"/><circle cx="261.3" cy="473.4" r="2"/><circle cx="261.8" cy="470.4" r="2"/><circle cx="262.2" cy="472.7" r="2"/><circle cx="263.3" cy="473.3" r="2"/><circle cx="263.7" cy="474.1" r="2"/><circle cx="264.7" cy="474.2" r="2"/><circle cx="265.6" cy="476.5" r="2"/><circle cx="265.9" cy="471.6" r="2"/><circle cx="266.7" cy="474.8" r="2"/><circle cx="267.5" cy="471.2" r="2"/><circle cx="267.7" cy="471.4" r="2"/><circle cx="268.4" cy="473.2" r="2"/><circle cx="269.2" cy="476.6" r="2"/><circle cx="270.1" cy="474.0" r="2"/><circle cx="270.5" cy="473.4" r="2"/><circle cx="271.5" cy="472.2" r="2"/><circle cx="271.9" cy="470.5" r="2"/><circle cx="272.8" cy="471.1" r="2"/><circle cx="273.2" cy="473.8" r="2"/><circle cx="274.4" cy="475.0" r="2"/><circle cx="275.1" cy="477.3" r="2"/><circle cx="275.1" cy="469.7" r="2"/><circle cx="276.5" cy="474.2" r="2"/><circle cx="276.8" cy="473.1" r="2"/><circle cx="277.8" cy="474.7" r="2"/><circle cx="278.0" cy="472.3" r="2"/><circle cx="278.9" cy="472.8" r="2"/><circle cx="279.9" cy="475.8" r="2"/><circle cx="280.3" cy="476.0" r="2"/><circle cx="281.2" cy="472.9" r="2"/><circle cx="281.9" cy="471.9" r="2"/><circle cx="282.3" cy="473.5" r="2"/><circle cx="283.0" cy="473.3" r="2"/><circle cx="283.6" cy="472.9" r="2"/><circle cx="284.3" cy="474.3" r="2"/><circle cx="284.9" cy="473.4" r="2"/><circle cx="285.9" cy="473.2" r="2"/><circle cx="286.6" cy="476.6" r="2"/><circle cx="287.2" cy="476.4" r="2"/><circle cx="288.0" cy="472.8" r="2"/><circle cx="288.4" cy="475.2" r="2"/><circle cx="289.5" cy="471.7" r="2"/><circle cx="289.8" cy="472.3" r="2"/><circle cx="290.4" cy="474.2" r="2"/><circle cx="291.4" cy="473.6" r="2"/><circle cx="291.7" cy="474.7" r="2"/><circle cx="292.4" cy="472.7" r="2"/><circle cx="293.2" cy="474.0" r="2"/><circle cx="294.2" cy="475.1" r="2"/><circle cx="294.9" cy="474.4" r="2"/><circle cx="295.6" cy="470.7" r="2"/><circle cx="296.3" cy="470.3" r="2"/><circle cx="296.4" cy="472.3" r="2"/></g><g fill="#f00000"><rect x="106.9" y="322.6" width="4" height="4"/><rect x="98.4" y="324.2" width="4" height="4"/><rect x="101.6" y="329.1" width="4" height="4"/><rect x="95.7" y="337.1" width="4" height="4"/><rect x="96.8" y="341.1" width="4" height="4"/><rect x="96.8" y="343.8" width="4" height="4"/><rect x="98.1" y="332.3" width="4" height="4"/><rect x="120.1" y="343.0" width="4" height="4"/><rect x="106.9" y="360.4" width="4" height="4"/><rect x="278.9" y="346.6" width="4" height="4"/><rect x="96.8" y="470.9" width="4" height="4"/><rect x="96.0" y="481.6" width="4" height="4"/><rect x="93.5" y="486.0" width="4" height="4"/><rect x="94.4" y="488.1" width="4" height="4"/><rect x="101.8" y="482.0" width="4" height="4"/><rect x="104.0" y="483.3" width="4" height="4"/><rect x="106.2" y="485.5" width="4" height="4"/><rect x="108.4" y="486.8" width="4" height="4"/><rect x="111.0" y="485.1" width="4" height="4"/><rect x="113.2" y="487.7" width="4" height="4"/><rect x="111.9" y="483.8" width="4" height="4"/><rect x="118.5" y="485.1" width="4" height="4"/><rect x="119.3" y="487.3" width="4" height="4"/><rect x="122.4" y="483.8" width="4" height="4"/><rect x="125.2" y="487.0" width="4" height="4"/><rect x="99.0" y="483.0" width="4" height="4"/><rect x="98.0" y="486.5" width="4" height="4"/><rect x="115.5" y="485.5" width="4" height="4"/><rect x="235.8" y="484.9" width="4" height="4"/><rect x="260.3" y="477.3" width="4" height="4"/><rect x="257.1" y="485.8" width="4" height="4"/><rect x="263.7" y="482.6" width="4" height="4"/><rect x="264.7" y="485.4" width="4" height="4"/><rect x="267.1" y="486.4" width="4" height="4"/><rect x="277.0" y="487.0" width="4" height="4"/><rect x="287.5" y="483.0" width="4" height="4"/><rect x="301.7" y="485.8" width="4" height="4"/></g><g fill="#8a5a2a"><circle cx="100.6" cy="322.4" r="2"/><circle cx="105.4" cy="323.4" r="2"/><circle cx="100.1" cy="327.5" r="2"/><circle cx="99.6" cy="330.3" r="2"/><circle cx="98.9" cy="332.3" r="2"/><circle cx="99.3" cy="334.3" r="2"/><circle cx="101.7" cy="337.5" r="2"/><circle cx="103.8" cy="338.3" r="2"/><circle cx="99.6" cy="340.7" r="2"/><circle cx="101.7" cy="342.6" r="2"/><circle cx="102.0" cy="345.2" r="2"/><circle cx="99.3" cy="350.0" r="2"/><circle cx="264.8" cy="337.6" r="2"/><circle cx="287.7" cy="337.8" r="2"/><circle cx="308.4" cy="332.1" r="2"/><circle cx="96.5" cy="469" r="2"/><circle cx="110.8" cy="475.3" r="2"/><circle cx="108.6" cy="479.8" r="2"/><circle cx="110.4" cy="485.1" r="2"/><circle cx="99.9" cy="486.6" r="2"/><circle cx="99" cy="488.4" r="2"/><circle cx="101.6" cy="488.8" r="2"/><circle cx="103.4" cy="489.7" r="2"/><circle cx="100.3" cy="490.6" r="2"/><circle cx="105.1" cy="491" r="2"/><circle cx="98.6" cy="491.9" r="2"/><circle cx="102.1" cy="491.9" r="2"/><circle cx="106.9" cy="491.5" r="2"/><circle cx="110.8" cy="491.5" r="2"/><circle cx="98.6" cy="493.6" r="2"/><circle cx="100.8" cy="493.2" r="2"/><circle cx="108.2" cy="493.2" r="2"/><circle cx="118.7" cy="491.7" r="2"/><circle cx="122.2" cy="492.6" r="2"/><circle cx="103.5" cy="492.5" r="2"/><circle cx="104" cy="487.5" r="2"/><circle cx="101.5" cy="486" r="2"/><circle cx="250.5" cy="489.3" r="2"/><circle cx="248.3" cy="491.2" r="2"/><circle cx="261.0" cy="490.3" r="2"/><circle cx="263.5" cy="489.0" r="2"/><circle cx="265.7" cy="491.2" r="2"/><circle cx="274.3" cy="491.8" r="2"/><circle cx="277.1" cy="491.6" r="2"/><circle cx="280.0" cy="491.6" r="2"/><circle cx="285.7" cy="488.4" r="2"/><circle cx="288.5" cy="487.4" r="2"/><circle cx="289.5" cy="490.9" r="2"/><circle cx="294.2" cy="490.3" r="2"/><circle cx="299.3" cy="482.3" r="2"/></g><rect x="67.2" y="305.4" width="267.7" height="206.9" fill="none" stroke="#222" stroke-width="1"/><path d="M504.4 305.4V512.3M609.0 305.4V512.3M416.6 364.3H684.3M416.6 414.2H684.3M416.6 464.4H684.3" stroke="#cfcfcf" stroke-width="0.9" fill="none"/><path d="M504.4 305.4v8.6M504.4 512.3v-8.6M609.0 305.4v8.6M609.0 512.3v-8.6M416.6 364.3h8.6M684.3 364.3h-8.6M416.6 414.2h8.6M684.3 414.2h-8.6M416.6 464.4h8.6M684.3 464.4h-8.6" stroke="#aaaaaa" stroke-width="0.8" fill="none"/><g fill="#0000ff"><circle cx="562.0" cy="338.7" r="2"/><circle cx="577.8" cy="346.3" r="2"/><circle cx="579.3" cy="345.4" r="2"/><circle cx="586.9" cy="345.7" r="2"/><circle cx="590.1" cy="347.3" r="2"/><circle cx="594.3" cy="346.7" r="2"/><circle cx="594.9" cy="350.5" r="2"/><circle cx="590.1" cy="353.9" r="2"/><circle cx="592.4" cy="358.3" r="2"/><circle cx="590.5" cy="363.8" r="2"/><circle cx="598.7" cy="360.0" r="2"/><circle cx="600.5" cy="360.7" r="2"/><circle cx="590.5" cy="332.1" r="2"/><circle cx="594.3" cy="331.9" r="2"/><circle cx="603.4" cy="347.3" r="2"/><circle cx="604.3" cy="341.0" r="2"/><circle cx="607.6" cy="366.8" r="2"/><circle cx="611.9" cy="344.4" r="2"/><circle cx="612.9" cy="351.4" r="2"/><circle cx="613.8" cy="347.6" r="2"/><circle cx="616.7" cy="344.4" r="2"/><circle cx="619.1" cy="341.6" r="2"/><circle cx="615.7" cy="362.4" r="2"/><circle cx="619.0" cy="362.4" r="2"/><circle cx="621.4" cy="360.0" r="2"/><circle cx="621.4" cy="350.1" r="2"/><circle cx="622.9" cy="355.8" r="2"/><circle cx="624.8" cy="356.2" r="2"/><circle cx="624.3" cy="367.2" r="2"/><circle cx="628.1" cy="349.2" r="2"/><circle cx="630.0" cy="350.1" r="2"/><circle cx="631.9" cy="346.3" r="2"/><circle cx="633.8" cy="348.2" r="2"/><circle cx="634.7" cy="351.1" r="2"/><circle cx="636.6" cy="353.9" r="2"/><circle cx="637.2" cy="355.4" r="2"/><circle cx="639.5" cy="355.2" r="2"/><circle cx="636.0" cy="361.1" r="2"/><circle cx="635.7" cy="366.2" r="2"/><circle cx="640.0" cy="366.2" r="2"/><circle cx="641.7" cy="361.5" r="2"/><circle cx="644.2" cy="362.8" r="2"/><circle cx="652.4" cy="354.9" r="2"/><circle cx="660.9" cy="360.7" r="2"/><circle cx="636.6" cy="338.7" r="2"/><circle cx="638.5" cy="336.8" r="2"/><circle cx="641.9" cy="339.3" r="2"/><circle cx="645.1" cy="343.5" r="2"/><circle cx="647.0" cy="343.5" r="2"/><circle cx="645.1" cy="347.3" r="2"/><circle cx="635.7" cy="340.6" r="2"/><circle cx="628.1" cy="339.7" r="2"/><circle cx="452.7" cy="471.7" r="2"/><circle cx="454.4" cy="471.5" r="2"/><circle cx="456.1" cy="471.7" r="2"/><circle cx="457.8" cy="471.6" r="2"/><circle cx="461.9" cy="471.4" r="2"/><circle cx="463.3" cy="471.2" r="2"/><circle cx="464.8" cy="471.8" r="2"/><circle cx="466.2" cy="471.2" r="2"/><circle cx="467.7" cy="471.5" r="2"/><circle cx="469.1" cy="471.4" r="2"/><circle cx="470.6" cy="471.4" r="2"/><circle cx="472.0" cy="471.7" r="2"/><circle cx="473.5" cy="471.8" r="2"/><circle cx="474.9" cy="471.3" r="2"/><circle cx="476.4" cy="471.6" r="2"/><circle cx="477.8" cy="471.4" r="2"/><circle cx="479.3" cy="471.5" r="2"/><circle cx="480.7" cy="471.4" r="2"/><circle cx="482.2" cy="471.3" r="2"/><circle cx="483.6" cy="471.3" r="2"/><circle cx="485.1" cy="471.3" r="2"/><circle cx="486.5" cy="471.8" r="2"/><circle cx="488.0" cy="471.5" r="2"/><circle cx="489.4" cy="471.3" r="2"/><circle cx="490.9" cy="471.8" r="2"/><circle cx="492.3" cy="471.8" r="2"/><circle cx="493.8" cy="471.5" r="2"/><circle cx="495.2" cy="471.2" r="2"/><circle cx="501.3" cy="471.3" r="2"/><circle cx="502.8" cy="471.2" r="2"/><circle cx="504.3" cy="471.4" r="2"/><circle cx="505.8" cy="471.2" r="2"/><circle cx="507.3" cy="471.3" r="2"/><circle cx="508.8" cy="471.3" r="2"/><circle cx="510.3" cy="471.5" r="2"/><circle cx="511.8" cy="471.8" r="2"/><circle cx="517.1" cy="471.7" r="2"/><circle cx="518.7" cy="471.4" r="2"/><circle cx="520.3" cy="471.4" r="2"/><circle cx="521.9" cy="471.5" r="2"/><circle cx="523.5" cy="471.4" r="2"/><circle cx="525.1" cy="471.4" r="2"/><circle cx="526.7" cy="471.2" r="2"/><circle cx="528.3" cy="471.3" r="2"/><circle cx="529.9" cy="471.8" r="2"/><circle cx="536.1" cy="471.6" r="2"/><circle cx="546.7" cy="471.7" r="2"/><circle cx="477.8" cy="479.2" r="2"/><circle cx="472.7" cy="488.4" r="2"/><circle cx="551.2" cy="476.8" r="2"/><circle cx="551" cy="471.1" r="2"/><circle cx="552.2" cy="471.7" r="2"/><circle cx="553.4" cy="471.9" r="2"/><circle cx="554.6" cy="472.3" r="2"/><circle cx="555.8" cy="471.2" r="2"/><circle cx="557.0" cy="471.3" r="2"/><circle cx="558.2" cy="471.3" r="2"/><circle cx="559.4" cy="471.5" r="2"/><circle cx="560.6" cy="471.6" r="2"/><circle cx="561.8" cy="472.4" r="2"/><circle cx="563.0" cy="472.3" r="2"/><circle cx="564.2" cy="472.3" r="2"/><circle cx="565.4" cy="470.9" r="2"/><circle cx="566.6" cy="471.0" r="2"/><circle cx="567.8" cy="472.0" r="2"/><circle cx="569.0" cy="472.3" r="2"/><circle cx="570.2" cy="471.7" r="2"/><circle cx="571.4" cy="471.8" r="2"/><circle cx="572.6" cy="470.9" r="2"/><circle cx="573.8" cy="471.5" r="2"/><circle cx="575.0" cy="472.4" r="2"/><circle cx="576.2" cy="472.2" r="2"/><circle cx="577.4" cy="472.3" r="2"/><circle cx="578.6" cy="472.5" r="2"/><circle cx="579.8" cy="471.3" r="2"/><circle cx="581.0" cy="471.1" r="2"/><circle cx="582.2" cy="471.1" r="2"/><circle cx="583.4" cy="471.7" r="2"/><circle cx="584.6" cy="472.0" r="2"/><circle cx="585.8" cy="472.4" r="2"/><circle cx="587.0" cy="472.1" r="2"/><circle cx="588.2" cy="471.9" r="2"/><circle cx="589.4" cy="472.1" r="2"/><circle cx="590.6" cy="471.6" r="2"/><circle cx="591.8" cy="471.8" r="2"/><circle cx="593.0" cy="471.0" r="2"/><circle cx="594.2" cy="472.2" r="2"/><circle cx="595.4" cy="471.3" r="2"/><circle cx="596.6" cy="472.4" r="2"/><circle cx="597.8" cy="471.9" r="2"/><circle cx="599.0" cy="471.4" r="2"/><circle cx="600.2" cy="471.1" r="2"/><circle cx="601.4" cy="471.3" r="2"/><circle cx="602.6" cy="471.9" r="2"/><circle cx="603.8" cy="472.0" r="2"/><circle cx="605.0" cy="471.1" r="2"/><circle cx="606.2" cy="471.0" r="2"/><circle cx="607.4" cy="471.7" r="2"/><circle cx="608.6" cy="471.8" r="2"/><circle cx="609.8" cy="471.5" r="2"/><circle cx="611.0" cy="471.3" r="2"/><circle cx="612.2" cy="471.9" r="2"/><circle cx="613.4" cy="470.9" r="2"/><circle cx="614.6" cy="471.4" r="2"/><circle cx="615.8" cy="471.6" r="2"/><circle cx="617.0" cy="472.4" r="2"/><circle cx="618.2" cy="471.9" r="2"/><circle cx="619.4" cy="472.3" r="2"/><circle cx="620.6" cy="471.7" r="2"/><circle cx="621.8" cy="471.3" r="2"/><circle cx="623.0" cy="471.3" r="2"/><circle cx="624.2" cy="472.4" r="2"/><circle cx="625.4" cy="472.0" r="2"/><circle cx="626.6" cy="471.4" r="2"/><circle cx="627.8" cy="470.9" r="2"/><circle cx="629.0" cy="471.7" r="2"/><circle cx="630.2" cy="472.0" r="2"/><circle cx="631.4" cy="471.6" r="2"/><circle cx="632.6" cy="471.3" r="2"/><circle cx="633.8" cy="472.0" r="2"/><circle cx="635.0" cy="472.4" r="2"/><circle cx="636.2" cy="471.3" r="2"/><circle cx="637.4" cy="471.0" r="2"/><circle cx="638.6" cy="471.4" r="2"/><circle cx="639.8" cy="471.6" r="2"/><circle cx="641.0" cy="472.0" r="2"/><circle cx="642.2" cy="471.2" r="2"/><circle cx="643.4" cy="472.2" r="2"/><circle cx="644.6" cy="472.1" r="2"/><circle cx="645.8" cy="471.7" r="2"/><circle cx="647.0" cy="471.2" r="2"/><circle cx="648.2" cy="472.5" r="2"/><circle cx="649.4" cy="471.4" r="2"/><circle cx="650.6" cy="472.2" r="2"/><circle cx="651.8" cy="471.3" r="2"/><circle cx="556" cy="470.8" r="2"/><circle cx="558.3" cy="472.5" r="2"/><circle cx="560.6" cy="471.0" r="2"/><circle cx="562.9" cy="473.1" r="2"/><circle cx="565.2" cy="471.7" r="2"/><circle cx="567.5" cy="470.7" r="2"/><circle cx="569.8" cy="470.8" r="2"/><circle cx="572.1" cy="471.4" r="2"/><circle cx="574.4" cy="472.2" r="2"/><circle cx="576.7" cy="473.1" r="2"/><circle cx="579.0" cy="470.6" r="2"/><circle cx="581.3" cy="471.4" r="2"/><circle cx="583.6" cy="470.8" r="2"/><circle cx="585.9" cy="473.2" r="2"/><circle cx="588.2" cy="470.6" r="2"/><circle cx="590.5" cy="470.3" r="2"/><circle cx="592.8" cy="470.3" r="2"/><circle cx="595.1" cy="471.4" r="2"/><circle cx="597.4" cy="473.0" r="2"/><circle cx="599.7" cy="472.9" r="2"/><circle cx="602.0" cy="472.4" r="2"/><circle cx="604.3" cy="473.3" r="2"/><circle cx="606.6" cy="473.1" r="2"/><circle cx="608.9" cy="471.2" r="2"/><circle cx="611.2" cy="470.7" r="2"/><circle cx="613.5" cy="473.1" r="2"/><circle cx="615.8" cy="472.5" r="2"/><circle cx="618.1" cy="470.2" r="2"/><circle cx="620.4" cy="472.2" r="2"/><circle cx="622.7" cy="471.3" r="2"/><circle cx="625.0" cy="471.3" r="2"/><circle cx="627.3" cy="471.2" r="2"/><circle cx="629.6" cy="470.6" r="2"/><circle cx="631.9" cy="470.1" r="2"/><circle cx="634.2" cy="471.0" r="2"/><circle cx="636.5" cy="471.2" r="2"/><circle cx="638.8" cy="473.2" r="2"/><circle cx="641.1" cy="470.5" r="2"/><circle cx="643.4" cy="473.2" r="2"/><circle cx="645.7" cy="470.8" r="2"/><circle cx="648.0" cy="471.2" r="2"/><circle cx="655.4" cy="472.0" r="2"/><circle cx="657.2" cy="471.9" r="2"/><circle cx="659.0" cy="471.5" r="2"/><circle cx="660.8" cy="471.2" r="2"/><circle cx="630.2" cy="474.0" r="2"/><circle cx="637.1" cy="472.5" r="2"/><circle cx="628.2" cy="478.6" r="2"/><circle cx="639.0" cy="474.1" r="2"/><circle cx="637.4" cy="468.4" r="2"/><circle cx="635.7" cy="473.7" r="2"/><circle cx="643.5" cy="476.3" r="2"/><circle cx="634.2" cy="478.8" r="2"/><circle cx="637.8" cy="471.8" r="2"/><circle cx="632.9" cy="479.9" r="2"/><circle cx="631.9" cy="471.8" r="2"/><circle cx="633.7" cy="470.8" r="2"/><circle cx="634.4" cy="473.8" r="2"/><circle cx="634.9" cy="467.1" r="2"/><circle cx="627.3" cy="467.8" r="2"/><circle cx="637.7" cy="473.9" r="2"/><circle cx="625.5" cy="474.7" r="2"/><circle cx="638.8" cy="472.6" r="2"/><circle cx="634.5" cy="476.9" r="2"/><circle cx="625.5" cy="473.8" r="2"/><circle cx="637.8" cy="478.8" r="2"/><circle cx="633.9" cy="467.6" r="2"/><circle cx="635.4" cy="469.2" r="2"/><circle cx="632.6" cy="476.0" r="2"/><circle cx="629.4" cy="477.8" r="2"/><circle cx="637.1" cy="474.5" r="2"/><circle cx="634.6" cy="471.1" r="2"/><circle cx="635.6" cy="473.8" r="2"/><circle cx="630.7" cy="472.6" r="2"/><circle cx="643.5" cy="472.7" r="2"/><circle cx="635.5" cy="452.3" r="2"/><circle cx="637.4" cy="458.4" r="2"/><circle cx="597.7" cy="462.5" r="2"/><circle cx="599.2" cy="465.5" r="2"/><circle cx="565.0" cy="465.5" r="2"/><circle cx="637.0" cy="465.5" r="2"/><circle cx="551.1" cy="476.8" r="2"/><circle cx="573.2" cy="477.8" r="2"/><circle cx="587.9" cy="476.8" r="2"/><circle cx="586.9" cy="479.9" r="2"/><circle cx="584.4" cy="483.5" r="2"/><circle cx="617.6" cy="480.9" r="2"/><circle cx="619.6" cy="483.9" r="2"/><circle cx="639.0" cy="481.9" r="2"/><circle cx="649.8" cy="483.5" r="2"/><circle cx="623.7" cy="495.2" r="2"/><circle cx="628.8" cy="492.1" r="2"/><circle cx="608.4" cy="491.1" r="2"/><circle cx="658.4" cy="473.7" r="2"/><circle cx="546.6" cy="471.7" r="2"/></g><g fill="#f00000"><rect x="599.1" y="332.4" width="4" height="4"/><rect x="606.7" y="333.9" width="4" height="4"/><rect x="608.0" y="336.3" width="4" height="4"/><rect x="609.4" y="326.7" width="4" height="4"/><rect x="619.8" y="329.1" width="4" height="4"/><rect x="626.1" y="322.5" width="4" height="4"/><rect x="623.2" y="337.7" width="4" height="4"/><rect x="628.0" y="339.2" width="4" height="4"/><rect x="633.7" y="341.5" width="4" height="4"/><rect x="621.9" y="348.5" width="4" height="4"/><rect x="646.9" y="329.7" width="4" height="4"/><rect x="648.8" y="324.4" width="4" height="4"/><rect x="648.8" y="335.8" width="4" height="4"/><rect x="436.8" y="485.6" width="4" height="4"/><rect x="465.4" y="486.0" width="4" height="4"/><rect x="488.9" y="485.6" width="4" height="4"/><rect x="512.4" y="485.6" width="4" height="4"/><rect x="540.6" y="485.6" width="4" height="4"/><rect x="546.8" y="485.8" width="4" height="4"/><rect x="553.9" y="485.8" width="4" height="4"/><rect x="546.7" y="486.0" width="4" height="4"/><rect x="554.2" y="486.4" width="4" height="4"/><rect x="559.3" y="485.4" width="4" height="4"/><rect x="564.5" y="486.0" width="4" height="4"/><rect x="569.6" y="485.6" width="4" height="4"/><rect x="573.7" y="486.0" width="4" height="4"/><rect x="577.7" y="485.6" width="4" height="4"/><rect x="642.5" y="473.8" width="4" height="4"/><rect x="641.1" y="481.9" width="4" height="4"/><rect x="581.8" y="486.1" width="4" height="4"/><rect x="584.0" y="485.6" width="4" height="4"/><rect x="586.2" y="485.5" width="4" height="4"/><rect x="588.4" y="485.5" width="4" height="4"/><rect x="590.6" y="485.7" width="4" height="4"/><rect x="592.8" y="485.8" width="4" height="4"/><rect x="595.0" y="485.6" width="4" height="4"/><rect x="597.2" y="485.5" width="4" height="4"/><rect x="599.4" y="485.6" width="4" height="4"/><rect x="605.3" y="485.5" width="4" height="4"/><rect x="607.7" y="485.5" width="4" height="4"/><rect x="610.1" y="485.5" width="4" height="4"/><rect x="624.7" y="485.8" width="4" height="4"/><rect x="626.9" y="485.7" width="4" height="4"/><rect x="629.1" y="485.4" width="4" height="4"/><rect x="631.3" y="485.9" width="4" height="4"/><rect x="633.5" y="485.5" width="4" height="4"/><rect x="635.7" y="485.7" width="4" height="4"/><rect x="637.9" y="485.6" width="4" height="4"/><rect x="640.1" y="485.9" width="4" height="4"/><rect x="642.3" y="485.5" width="4" height="4"/><rect x="644.5" y="485.6" width="4" height="4"/><rect x="646.7" y="485.6" width="4" height="4"/><rect x="648.9" y="485.6" width="4" height="4"/><rect x="651.1" y="486.0" width="4" height="4"/><rect x="653.3" y="485.8" width="4" height="4"/></g><g fill="#8a5a2a"><circle cx="620.5" cy="323.5" r="2"/><circle cx="631.3" cy="327.9" r="2"/><circle cx="644.8" cy="322.6" r="2"/><circle cx="614.8" cy="331.7" r="2"/><circle cx="603.0" cy="337.8" r="2"/><circle cx="611.4" cy="338.7" r="2"/><circle cx="618.6" cy="345.0" r="2"/><circle cx="631.9" cy="341.6" r="2"/><circle cx="635.7" cy="334.0" r="2"/><circle cx="638.5" cy="337.8" r="2"/><circle cx="640.4" cy="333.0" r="2"/><circle cx="642.3" cy="330.2" r="2"/><circle cx="644.8" cy="349.2" r="2"/><circle cx="464.3" cy="491.1" r="2"/><circle cx="469.7" cy="490.7" r="2"/><circle cx="471.7" cy="491.1" r="2"/><circle cx="473.5" cy="490.7" r="2"/><circle cx="518.9" cy="490.7" r="2"/><circle cx="525.0" cy="490.7" r="2"/><circle cx="541.6" cy="491.1" r="2"/><circle cx="545.1" cy="491.1" r="2"/><circle cx="545.7" cy="493.8" r="2"/><circle cx="545.0" cy="492.1" r="2"/><circle cx="546.0" cy="493.5" r="2"/><circle cx="568.5" cy="492.1" r="2"/><circle cx="575.0" cy="491.1" r="2"/><circle cx="578.7" cy="492.5" r="2"/><circle cx="583.8" cy="490.7" r="2"/><circle cx="588.9" cy="490.1" r="2"/><circle cx="596.1" cy="489.5" r="2"/><circle cx="600.2" cy="489.0" r="2"/><circle cx="620.6" cy="479.9" r="2"/><circle cx="622.7" cy="482.9" r="2"/><circle cx="628.8" cy="480.9" r="2"/><circle cx="621.0" cy="486.0" r="2"/><circle cx="625.7" cy="485.4" r="2"/><circle cx="604.3" cy="490.0" r="2"/><circle cx="605.6" cy="490.1" r="2"/><circle cx="606.9" cy="491.2" r="2"/><circle cx="608.2" cy="490.3" r="2"/><circle cx="609.5" cy="489.8" r="2"/><circle cx="610.8" cy="490.8" r="2"/><circle cx="612.1" cy="490.5" r="2"/><circle cx="613.4" cy="491.1" r="2"/><circle cx="614.7" cy="489.5" r="2"/><circle cx="616.0" cy="490.2" r="2"/><circle cx="617.3" cy="490.8" r="2"/><circle cx="618.6" cy="490.8" r="2"/><circle cx="619.9" cy="491.0" r="2"/><circle cx="621.2" cy="489.4" r="2"/><circle cx="622.5" cy="489.8" r="2"/><circle cx="623.8" cy="489.5" r="2"/><circle cx="625.1" cy="489.6" r="2"/><circle cx="626.4" cy="491.0" r="2"/><circle cx="627.7" cy="490.3" r="2"/><circle cx="629.0" cy="491.0" r="2"/><circle cx="630.3" cy="489.9" r="2"/><circle cx="631.6" cy="490.8" r="2"/><circle cx="632.9" cy="490.1" r="2"/><circle cx="634.2" cy="489.7" r="2"/><circle cx="635.5" cy="490.7" r="2"/><circle cx="636.8" cy="491.0" r="2"/><circle cx="638.1" cy="489.4" r="2"/><circle cx="639.4" cy="490.3" r="2"/><circle cx="640.7" cy="490.3" r="2"/><circle cx="642.0" cy="489.6" r="2"/><circle cx="643.3" cy="489.9" r="2"/><circle cx="644.6" cy="489.5" r="2"/><circle cx="645.9" cy="489.6" r="2"/><circle cx="647.2" cy="489.7" r="2"/><circle cx="614.9" cy="487.6" r="2"/><circle cx="622.3" cy="489.2" r="2"/><circle cx="617.8" cy="491.1" r="2"/><circle cx="624.1" cy="490.3" r="2"/><circle cx="625.1" cy="491.7" r="2"/><circle cx="619.9" cy="488.8" r="2"/><circle cx="626.8" cy="490.0" r="2"/><circle cx="613.9" cy="488.3" r="2"/><circle cx="625.0" cy="489.5" r="2"/><circle cx="619.9" cy="487.5" r="2"/><circle cx="620.9" cy="490.3" r="2"/><circle cx="627.0" cy="488.6" r="2"/><circle cx="616.8" cy="488.4" r="2"/><circle cx="611.6" cy="490.6" r="2"/><circle cx="627.7" cy="489.0" r="2"/><circle cx="625.2" cy="491.4" r="2"/><circle cx="622.2" cy="489.2" r="2"/><circle cx="627.1" cy="488.0" r="2"/><circle cx="624.6" cy="487.5" r="2"/><circle cx="626.9" cy="487.8" r="2"/><circle cx="622.5" cy="489.2" r="2"/><circle cx="613.9" cy="488.3" r="2"/><circle cx="624.2" cy="488.6" r="2"/><circle cx="617.8" cy="487.9" r="2"/><circle cx="618.6" cy="489.0" r="2"/></g><rect x="416.6" y="305.4" width="267.7" height="206.9" fill="none" stroke="#222" stroke-width="1"/><circle cx="163.9" cy="597.4" r="3.6" fill="#0000ff"/><rect x="267.2" y="596" width="6.2" height="6.2" fill="#f00000"/><circle cx="392" cy="597.4" r="3.6" fill="#c8843c"/></svg>
<svg width="685" height="603" viewBox="0 0 685 603" style="position:absolute;left:0;top:0;will-change:transform" fill="#1a1a1a"><text x="30.7" y="69.2" font-family="Liberation Serif" font-size="20" textLength="19.2" lengthAdjust="spacingAndGlyphs">10</text><text x="50.4" y="60.7" font-family="Liberation Serif" font-size="15.3">4</text><text x="49.6" y="116.7" font-family="Liberation Serif" font-size="20">0</text><text x="30.900000000000002" y="169.1" font-family="Liberation Serif" font-size="20" textLength="19.2" lengthAdjust="spacingAndGlyphs">10</text><text x="50.6" y="160.6" font-family="Liberation Serif" font-size="15.3">4</text><text x="23.099999999999998" y="169.1" font-family="Liberation Serif" font-size="20">-</text><text x="30.7" y="374.2" font-family="Liberation Serif" font-size="20" textLength="19.2" lengthAdjust="spacingAndGlyphs">10</text><text x="50.4" y="365.7" font-family="Liberation Serif" font-size="15.3">4</text><text x="49.6" y="421.7" font-family="Liberation Serif" font-size="20">0</text><text x="30.7" y="473.1" font-family="Liberation Serif" font-size="20" textLength="19.2" lengthAdjust="spacingAndGlyphs">10</text><text x="50.4" y="464.6" font-family="Liberation Serif" font-size="15.3">4</text><text x="16.599999999999998" y="473.1" font-family="Liberation Serif" font-size="20">−</text><text x="380.09999999999997" y="69.8" font-family="Liberation Serif" font-size="20" textLength="19.2" lengthAdjust="spacingAndGlyphs">10</text><text x="399.79999999999995" y="61.3" font-family="Liberation Serif" font-size="15.3">4</text><text x="399.0" y="117.3" font-family="Liberation Serif" font-size="20">0</text><text x="380.3" y="170.0" font-family="Liberation Serif" font-size="20" textLength="19.2" lengthAdjust="spacingAndGlyphs">10</text><text x="400.0" y="161.5" font-family="Liberation Serif" font-size="15.3">4</text><text x="372.49999999999994" y="170.0" font-family="Liberation Serif" font-size="20">-</text><text x="380.09999999999997" y="374.2" font-family="Liberation Serif" font-size="20" textLength="19.2" lengthAdjust="spacingAndGlyphs">10</text><text x="399.79999999999995" y="365.7" font-family="Liberation Serif" font-size="15.3">4</text><text x="399.0" y="421.7" font-family="Liberation Serif" font-size="20">0</text><text x="380.09999999999997" y="473.1" font-family="Liberation Serif" font-size="20" textLength="19.2" lengthAdjust="spacingAndGlyphs">10</text><text x="399.79999999999995" y="464.6" font-family="Liberation Serif" font-size="15.3">4</text><text x="365.99999999999994" y="473.1" font-family="Liberation Serif" font-size="20">−</text><text x="129.4" y="228.4" font-family="Liberation Serif" font-size="20">0</text><text x="289.8" y="228.4" font-family="Liberation Serif" font-size="20">1</text><text x="440.8" y="233.6" font-family="Liberation Serif" font-size="20" textLength="19.2" lengthAdjust="spacingAndGlyphs">10</text><text x="460.5" y="225.1" font-family="Liberation Serif" font-size="15.3">4</text><text x="433.0" y="233.6" font-family="Liberation Serif" font-size="20">-</text><text x="527.9" y="228.0" font-family="Liberation Serif" font-size="20">0</text><text x="598.5" y="233.6" font-family="Liberation Serif" font-size="20" textLength="19.2" lengthAdjust="spacingAndGlyphs">10</text><text x="618.2" y="225.1" font-family="Liberation Serif" font-size="15.3">4</text><text x="106.0" y="538.3" font-family="Liberation Serif" font-size="20" textLength="19.2" lengthAdjust="spacingAndGlyphs">10</text><text x="125.7" y="529.8" font-family="Liberation Serif" font-size="15.3">4</text><text x="91.60000000000001" y="538.3" font-family="Liberation Serif" font-size="20">−</text><text x="184.7" y="533.2" font-family="Liberation Serif" font-size="20">0</text><text x="252.20000000000002" y="538.3" font-family="Liberation Serif" font-size="20" textLength="19.2" lengthAdjust="spacingAndGlyphs">10</text><text x="271.9" y="529.8" font-family="Liberation Serif" font-size="15.3">4</text><text x="483.7" y="533.2" font-family="Liberation Serif" font-size="20" textLength="43.6" lengthAdjust="spacingAndGlyphs">−100</text><text x="604.4" y="533.2" font-family="Liberation Serif" font-size="20">0</text><text x="137.2" y="260.4" font-family="Liberation Sans" font-size="19" textLength="88.9" lengthAdjust="spacingAndGlyphs">e(intercept</text><rect x="235.25" y="247.39999999999998" width="0.9" height="17.5" fill="#333"/><text x="245.6" y="260.4" font-family="Liberation Serif" font-size="21" font-style="italic" textLength="9.4" lengthAdjust="spacingAndGlyphs">x</text><text x="256.7" y="260.4" font-family="Liberation Sans" font-size="19" textLength="7.6" lengthAdjust="spacingAndGlyphs">)</text><text x="472.7" y="260.4" font-family="Liberation Serif" font-size="20" textLength="24.9" lengthAdjust="spacingAndGlyphs">log</text><text x="503.7" y="260.4" font-family="Liberation Sans" font-size="19" textLength="87.6" lengthAdjust="spacingAndGlyphs">e(followers</text><rect x="600.05" y="247.39999999999998" width="0.9" height="17.5" fill="#333"/><text x="610.4" y="260.4" font-family="Liberation Serif" font-size="21" font-style="italic" textLength="10.0" lengthAdjust="spacingAndGlyphs">x</text><text x="621.6" y="260.4" font-family="Liberation Sans" font-size="19" textLength="7.5" lengthAdjust="spacingAndGlyphs">)</text><text x="121.9" y="565.6" font-family="Liberation Serif" font-size="20" textLength="25.2" lengthAdjust="spacingAndGlyphs">log</text><text x="153.2" y="565.6" font-family="Liberation Sans" font-size="19" textLength="89.6" lengthAdjust="spacingAndGlyphs">e(following</text><rect x="251.55" y="552.6" width="0.9" height="17.5" fill="#333"/><text x="262.2" y="565.6" font-family="Liberation Serif" font-size="21" font-style="italic" textLength="10.0" lengthAdjust="spacingAndGlyphs">x</text><text x="273.6" y="565.6" font-family="Liberation Sans" font-size="19" textLength="7.2" lengthAdjust="spacingAndGlyphs">)</text><text x="492.5" y="565.6" font-family="Liberation Sans" font-size="19" textLength="77.5" lengthAdjust="spacingAndGlyphs">e(months</text><rect x="578.8499999999999" y="552.6" width="0.9" height="17.5" fill="#333"/><text x="588.5" y="565.6" font-family="Liberation Serif" font-size="21" font-style="italic" textLength="10.7" lengthAdjust="spacingAndGlyphs">x</text><text x="600.2" y="565.6" font-family="Liberation Sans" font-size="19" textLength="7.8" lengthAdjust="spacingAndGlyphs">)</text><g transform="translate(14.7 176.2) rotate(-90)"><text x="-0.5" y="0" font-family="Liberation Serif" font-size="20" textLength="25.2" lengthAdjust="spacingAndGlyphs">log</text><text x="32.2" y="0" font-family="Liberation Sans" font-size="19" textLength="86.7" lengthAdjust="spacingAndGlyphs">e(followers</text><rect x="121.05" y="-13" width="0.9" height="17.5" fill="#333"/><text x="124.5" y="0" font-family="Liberation Serif" font-size="21" font-style="italic" textLength="9.7" lengthAdjust="spacingAndGlyphs">x</text><text x="135.6" y="0" font-family="Liberation Sans" font-size="19" textLength="9.1" lengthAdjust="spacingAndGlyphs">)</text></g><g transform="translate(364.09999999999997 176.2) rotate(-90)"><text x="-0.5" y="0" font-family="Liberation Serif" font-size="20" textLength="25.2" lengthAdjust="spacingAndGlyphs">log</text><text x="32.2" y="0" font-family="Liberation Sans" font-size="19" textLength="86.7" lengthAdjust="spacingAndGlyphs">e(followers</text><rect x="121.05" y="-13" width="0.9" height="17.5" fill="#333"/><text x="124.5" y="0" font-family="Liberation Serif" font-size="21" font-style="italic" textLength="9.7" lengthAdjust="spacingAndGlyphs">x</text><text x="135.6" y="0" font-family="Liberation Sans" font-size="19" textLength="9.1" lengthAdjust="spacingAndGlyphs">)</text></g><g transform="translate(14.9 480.6) rotate(-90)"><text x="-0.5" y="0" font-family="Liberation Serif" font-size="20" textLength="25.2" lengthAdjust="spacingAndGlyphs">log</text><text x="32.2" y="0" font-family="Liberation Sans" font-size="19" textLength="86.7" lengthAdjust="spacingAndGlyphs">e(followers</text><rect x="121.05" y="-13" width="0.9" height="17.5" fill="#333"/><text x="124.5" y="0" font-family="Liberation Serif" font-size="21" font-style="italic" textLength="9.7" lengthAdjust="spacingAndGlyphs">x</text><text x="135.6" y="0" font-family="Liberation Sans" font-size="19" textLength="9.1" lengthAdjust="spacingAndGlyphs">)</text></g><g transform="translate(364.29999999999995 480.6) rotate(-90)"><text x="-0.5" y="0" font-family="Liberation Serif" font-size="20" textLength="25.2" lengthAdjust="spacingAndGlyphs">log</text><text x="32.2" y="0" font-family="Liberation Sans" font-size="19" textLength="86.7" lengthAdjust="spacingAndGlyphs">e(followers</text><rect x="121.05" y="-13" width="0.9" height="17.5" fill="#333"/><text x="124.5" y="0" font-family="Liberation Serif" font-size="21" font-style="italic" textLength="9.7" lengthAdjust="spacingAndGlyphs">x</text><text x="135.6" y="0" font-family="Liberation Sans" font-size="19" textLength="9.1" lengthAdjust="spacingAndGlyphs">)</text></g><text x="175.6" y="602.0" font-family="Liberation Sans" font-size="18.5" textLength="65.5" lengthAdjust="spacingAndGlyphs">Threads</text><text x="280.4" y="602.0" font-family="Liberation Sans" font-size="18.5" textLength="80.5" lengthAdjust="spacingAndGlyphs">Mastodon</text><text x="404.40000000000003" y="602.0" font-family="Liberation Sans" font-size="18.5" textLength="100.2" lengthAdjust="spacingAndGlyphs">Truth Social</text></svg>
</body></html>
